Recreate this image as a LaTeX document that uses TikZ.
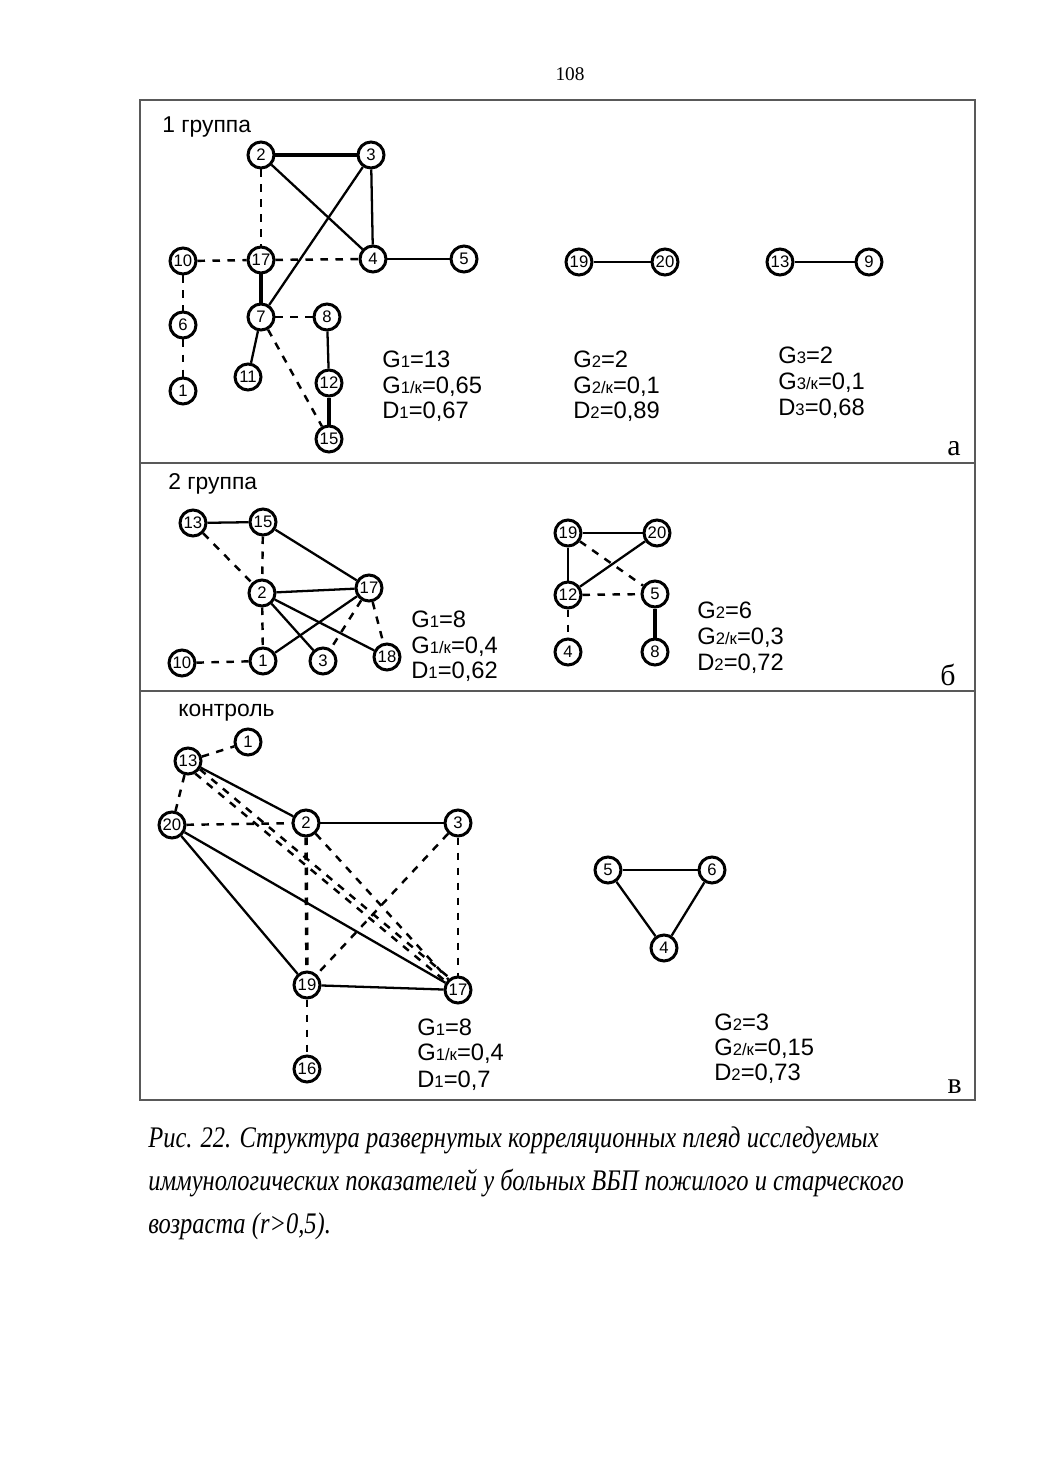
\documentclass[tikz,border=0pt]{standalone}
\usepackage{fontspec}
\usepackage{graphicx}
\setmainfont{Liberation Sans}
\newfontfamily\seriffont{Liberation Serif}
\usetikzlibrary{positioning}

% small index for the stats lines
\newcommand{\subidx}[1]{{\fontsize{9.5}{9.5}\selectfont #1}}
% narrow caption line
\newcommand{\captline}[1]{\scalebox{0.82}[1]{#1}}

\tikzset{
  vert/.style={circle, draw, fill=white, line width=1.7pt, minimum size=5.2mm, inner sep=0pt, font=\fontsize{9.5}{9.5}\selectfont},
  link/.style={line width=1.3pt},
  heavylink/.style={line width=2pt},
  dashlink/.style={line width=1.4pt, dash pattern=on 1.5mm off 1.5mm},
  stat/.style={anchor=base west, inner sep=0pt, font=\fontsize{13.5}{13.5}\selectfont},
  grouptitle/.style={anchor=base west, inner sep=0pt, font=\fontsize{13}{13}\selectfont},
  panellabel/.style={anchor=base east, inner sep=0pt, font=\seriffont\fontsize{17}{17}\selectfont},
  capt/.style={anchor=base west, inner sep=0pt, font=\seriffont\itshape\fontsize{17}{17}\selectfont},
  frame/.style={draw=black!65, line width=0.7pt}
}

\begin{document}
\begin{tikzpicture}[x=0.2mm, y=-0.2mm]
  % fix the page size
  \useasboundingbox (0,0) rectangle (1039,1471);
  % page number
  \node[font=\seriffont\fontsize{11}{11}\selectfont] (pagenum) at (570,74) {108};
  % draw the frame and the dividers
  \draw[frame] (140,100) rectangle (975,1100);
  \draw[frame] (140,463) -- (975,463);
  \draw[frame] (140,691) -- (975,691);

  % ---------- panel a ----------
  \node[grouptitle] (atitle) at (162,132) {1 группа};
  \foreach \n/\x/\y in {2/261/155, 3/371/155, 10/183/261, 17/261/260, 4/373/259, 5/464/259,
                        7/261/317, 8/327/317, 6/183/325, 11/248/377, 12/329/383, 1/183/391,
                        15/329/439, 19/579/262, 20/665/262, 13/780/262, 9/869/262}
    \node[vert] (a\n) at (\x,\y) {\n};
  % solid links
  \foreach \s/\t in {2/4, 3/4, 3/7, 4/5, 7/11, 8/12, 19/20, 13/9}
    \draw[link] (a\s) -- (a\t);
  % heavy links
  \foreach \s/\t in {2/3, 17/7, 12/15}
    \draw[heavylink] (a\s) -- (a\t);
  % dashed links
  \foreach \s/\t in {2/17, 10/17, 17/4, 10/6, 6/1, 7/8, 7/15}
    \draw[dashlink] (a\s) -- (a\t);
  % stats
  \node[stat] (ag1)  at (382,367) {G\subidx{1}=13};
  \node[stat] (ag1k) at (382,393) {G\subidx{1/к}=0,65};
  \node[stat] (ad1)  at (382,418) {D\subidx{1}=0,67};
  \node[stat] (ag2)  at (573,367) {G\subidx{2}=2};
  \node[stat] (ag2k) at (573,393) {G\subidx{2/к}=0,1};
  \node[stat] (ad2)  at (573,418) {D\subidx{2}=0,89};
  \node[stat] (ag3)  at (778,363) {G\subidx{3}=2};
  \node[stat] (ag3k) at (778,389) {G\subidx{3/к}=0,1};
  \node[stat] (ad3)  at (778,415) {D\subidx{3}=0,68};
  \node[panellabel] (alabel) at (961,455) {а};

  % ---------- panel b ----------
  \node[grouptitle] (btitle) at (168,489) {2 группа};
  \foreach \n/\x/\y in {13/193/523, 15/263/522, 2/262/593, 17/369/588, 10/182/663, 1/263/661,
                        3/323/661, 18/387/657, 19/568/533, 20/657/533, 12/568/595, 5/655/594,
                        4/568/652, 8/655/652}
    \node[vert] (b\n) at (\x,\y) {\n};
  % solid links
  \foreach \s/\t in {13/15, 15/17, 2/17, 2/3, 2/18, 17/1, 19/20, 19/12, 12/20}
    \draw[link] (b\s) -- (b\t);
  % heavy links
  \draw[heavylink] (b5) -- (b8);
  % dashed links
  \foreach \s/\t in {13/2, 15/2, 2/1, 17/3, 17/18, 10/1, 19/5, 12/5, 12/4}
    \draw[dashlink] (b\s) -- (b\t);
  % stats
  \node[stat] (bg1)  at (411,627) {G\subidx{1}=8};
  \node[stat] (bg1k) at (411,653) {G\subidx{1/к}=0,4};
  \node[stat] (bd1)  at (411,678) {D\subidx{1}=0,62};
  \node[stat] (bg2)  at (697,618) {G\subidx{2}=6};
  \node[stat] (bg2k) at (697,644) {G\subidx{2/к}=0,3};
  \node[stat] (bd2)  at (697,670) {D\subidx{2}=0,72};
  \node[panellabel] (blabel) at (956,685) {б};

  % ---------- panel c ----------
  \node[grouptitle] (ctitle) at (178,716) {контроль};
  \foreach \n/\x/\y in {1/248/742, 13/188/761, 20/172/825, 2/306/823, 3/458/823, 19/307/985,
                        17/458/990, 16/307/1069, 5/608/870, 6/712/870, 4/664/948}
    \node[vert] (c\n) at (\x,\y) {\n};
  % solid links
  \foreach \s/\t in {13/2, 2/3, 20/19, 20/17, 19/17, 5/6, 5/4, 6/4}
    \draw[link] (c\s) -- (c\t);
  % heavy dashed link
  \draw[dashlink, line width=2pt] (c2) -- (c19);
  % dashed links
  \foreach \s/\t in {13/1, 13/20, 20/2, 2/17, 3/19, 3/17, 19/16}
    \draw[dashlink] (c\s) -- (c\t);
  % two dashed links from 13 to 17
  \draw[dashlink] (c13.-35) -- (c17.125);
  \draw[dashlink] (c13.-60) -- (c17.145);
  % stats
  \node[stat] (cg1)  at (417,1035) {G\subidx{1}=8};
  \node[stat] (cg1k) at (417,1060) {G\subidx{1/к}=0,4};
  \node[stat] (cd1)  at (417,1087) {D\subidx{1}=0,7};
  \node[stat] (cg2)  at (714,1030) {G\subidx{2}=3};
  \node[stat] (cg2k) at (714,1055) {G\subidx{2/к}=0,15};
  \node[stat] (cd2)  at (714,1080) {D\subidx{2}=0,73};
  \node[panellabel] (clabel) at (962,1093) {в};

  % caption
  \node[capt] (cap1) at (148,1147) {\captline{Рис. 22. Структура развернутых корреляционных плеяд исследуемых}};
  \node[capt] (cap2) at (148,1190) {\captline{иммунологических показателей у больных ВБП пожилого и старческого}};
  \node[capt] (cap3) at (148,1233) {\captline{возраста (r>0,5).}};
\end{tikzpicture}
\end{document}
